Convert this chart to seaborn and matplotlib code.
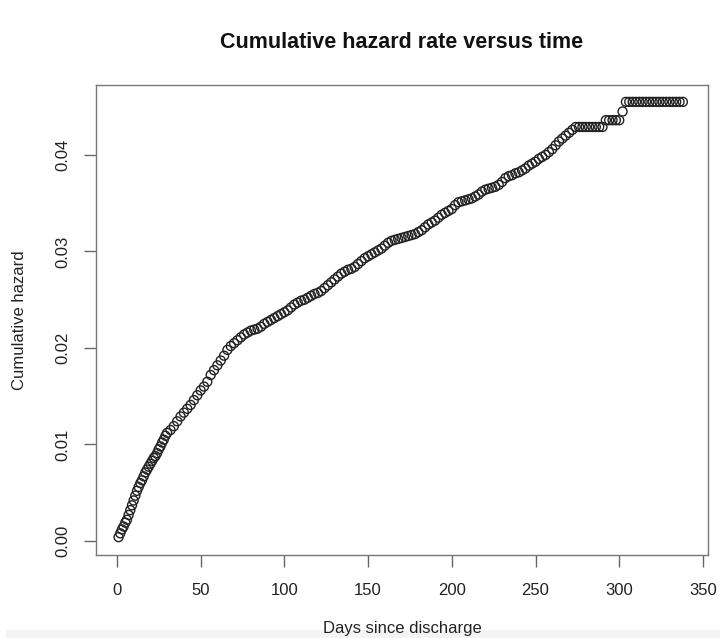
import matplotlib
matplotlib.use("Agg")
import matplotlib.pyplot as plt
import seaborn as sns
import pandas as pd
from matplotlib.patches import Rectangle

# ---- data ----
days = [1, 2, 3, 4, 5, 6, 7, 8, 9, 10, 11, 12, 13, 14, 15, 16, 17, 18, 19, 20,
        21, 22, 23, 24, 25, 26, 27, 28, 29, 30,
        32, 34, 36, 38, 40, 42, 44, 46, 48, 50, 52, 54, 56, 58, 60, 62, 64, 66, 68, 70,
        72, 74, 76, 78, 80, 82, 84, 86, 88, 90, 92, 94, 96, 98, 100, 102, 104, 106, 108, 110,
        112, 114, 116, 118, 120, 122, 124, 126, 128, 130, 132, 134, 136, 138, 140, 142, 144, 146, 148, 150,
        152, 154, 156, 158, 160, 162, 164, 166, 168, 170, 172, 174, 176, 178, 180, 182, 184, 186, 188, 190,
        192, 194, 196, 198, 200, 202, 204, 206, 208, 210, 212, 214, 216, 218, 220, 222, 224, 226, 228, 230,
        232, 234, 236, 238, 240, 242, 244, 246, 248, 250, 252, 254, 256, 258, 260, 262, 264, 266, 268, 270,
        272, 274, 276, 278, 280, 282, 284, 286, 288, 290, 292, 294, 296, 298, 300, 302, 304, 306, 308, 310,
        312, 314, 316, 318, 320, 322, 324, 326, 328, 330, 332, 334, 336, 338]

hazard = [.0004, .0008, .0012, .0015, .0019, .0022, .0027, .0032, .0037, .0042,
          .0047, .0052, .0056, .0060, .0063, .0067, .0071, .0074, .0077, .0080,
          .0083, .0086, .0088, .0091, .0095, .0098, .0102, .0105, .0109, .0112,
          .0115, .0119, .0124, .0129, .0133, .0137, .0141, .0146, .0151, .0156,
          .0160, .0165, .0172, .0177, .0182, .0187, .0192, .0198, .0202, .0205,
          .0208, .0211, .0214, .0216, .0218, .0219, .0220, .0222, .0225, .0227,
          .0229, .0231, .0233, .0235, .0237, .0239, .0242, .0245, .0247, .0249,
          .0250, .0252, .0254, .0256, .0257, .0259, .0262, .0265, .0268, .0271,
          .0274, .0277, .0279, .0281, .0282, .0284, .0287, .0290, .0293, .0295,
          .0297, .0299, .0301, .0303, .0306, .0309, .0311, .0312, .0313, .0314,
          .0315, .0316, .0317, .0318, .0320, .0322, .0325, .0328, .0330, .0332,
          .0335, .0338, .0340, .0342, .0344, .0348, .0351, .0352, .0353, .0354,
          .0355, .0357, .0359, .0362, .0364, .0365, .0366, .0367, .0369, .0372,
          .0376, .0378, .0379, .0381, .0382, .0384, .0386, .0389, .0391, .0393,
          .0396, .0398, .0400, .0403, .0406, .0410, .0414, .0417, .0420, .0423,
          .0426, .0429, .0429, .0429, .0429, .0429, .0429, .0429, .0429, .0429,
          .0436, .0436, .0436, .0436, .0436, .0445, .0455, .0455, .0455, .0455,
          .0455, .0455, .0455, .0455, .0455, .0455, .0455, .0455, .0455, .0455,
          .0455, .0455, .0455, .0455]

x_ticks = [0, 50, 100, 150, 200, 250, 300, 350]
y_ticks = [0.00, 0.01, 0.02, 0.03, 0.04]
y_tick_labels = ["0.00", "0.01", "0.02", "0.03", "0.04"]

title = "Cumulative hazard rate versus time"
x_label = "Days since discharge"
y_label = "Cumulative hazard"

df = pd.DataFrame({"days": days, "hazard": hazard})

sns.set_style("ticks")
plt.rcParams["font.family"] = ["Liberation Sans", "DejaVu Sans"]

fig = plt.figure(figsize=(7.2, 6.38), dpi=100)
ax = fig.add_axes([0.1333, 0.1301, 0.85, 0.7367])

sns.scatterplot(data=df, x="days", y="hazard", ax=ax, marker="o", s=42,
                facecolor="none", edgecolor="#222222", linewidth=1.0, legend=False)

ax.set_xlim(-12.5, 353)
ax.set_ylim(-0.00145, 0.04725)
ax.set_xticks(x_ticks)
ax.set_xticklabels([str(t) for t in x_ticks], fontsize=12, color="#222222")
ax.set_yticks(y_ticks)
ax.set_yticklabels(y_tick_labels, fontsize=12, color="#222222", rotation=90, va="center")
ax.tick_params(axis="both", direction="out", length=8.5, width=1, color="#666666")
ax.tick_params(axis="x", pad=12)
ax.tick_params(axis="y", pad=10)
for sp in ax.spines.values():
    sp.set_visible(True)
    sp.set_color("#777777")
    sp.set_linewidth(1)
ax.set_xlabel("")
ax.set_ylabel("")

fig.text(402 / 720, 1 - 43 / 638, title, ha="center", va="center",
         fontsize=15.5, fontweight="bold", color="#111111")
fig.text(20 / 720, 1 - 320 / 638, y_label, ha="center", va="center",
         rotation=90, fontsize=12, color="#222222")

fig.patches.append(Rectangle((6 / 720, 0), 1, 8 / 638, transform=fig.transFigure,
                             facecolor="#f4f4f4", edgecolor="none", zorder=0))
fig.text(402 / 720, 1 - 629 / 638, x_label, ha="center", va="center",
         fontsize=12, color="#222222")

fig.savefig("out.png", dpi=100)
